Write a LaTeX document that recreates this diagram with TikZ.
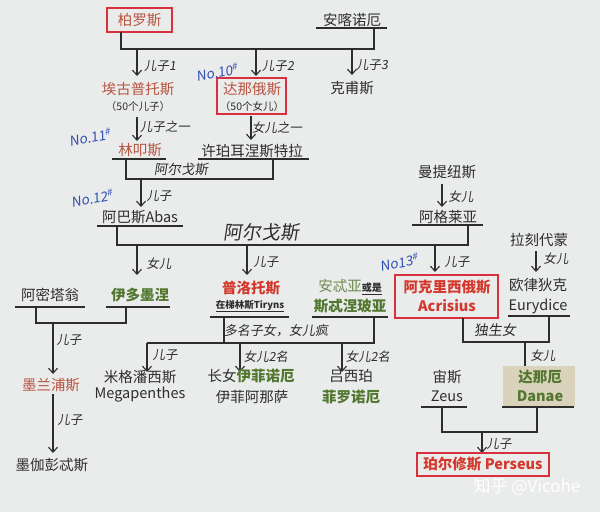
\documentclass[tikz,border=0pt]{standalone}
\usepackage{fontspec}
\setmainfont{Noto Sans CJK SC}
\newfontfamily\hand[FakeSlant=0.15]{Noto Sans CJK SC}
\usetikzlibrary{arrows.meta}
\definecolor{paper}{RGB}{234,235,235}
\definecolor{ink}{RGB}{45,45,45}
\definecolor{brn}{RGB}{184,84,64}
\definecolor{redb}{RGB}{212,56,44}
\definecolor{boxred}{RGB}{216,48,62}
\definecolor{grn}{RGB}{82,120,48}
\definecolor{grnl}{RGB}{110,140,80}
\definecolor{blu}{RGB}{50,80,180}
\definecolor{beige}{RGB}{218,210,186}
\tikzset{
  nm/.style={font=\fontsize{14.5}{16}\selectfont, text=ink, inner sep=0pt},
  sm/.style={font=\fontsize{10.5}{12}\selectfont, text=ink, inner sep=0pt},
  hl/.style={font=\hand\fontsize{12.5}{13}\selectfont, text=ink, inner sep=0pt},
  nolab/.style={font=\hand\fontsize{13.5}{14}\selectfont, text=blu, inner sep=0pt, rotate=10},
  redbox/.style={draw=boxred, line width=2pt, inner sep=0pt},
  ln/.style={draw=ink, line width=1.1pt},
  arr/.style={ln, -{Straight Barb[length=5pt,width=9pt,line width=1.1pt]}},
}
\begin{document}
\begin{tikzpicture}[x=1pt,y=-1pt]
\fill[paper] (0,0) rectangle (600,512);
\useasboundingbox (0,0) rectangle (600,512);

% ---------- generation 1
\node[redbox, minimum width=65pt, minimum height=24pt] (bolubox) at (139.5,20) {};
\node[nm, text=brn] (bolu) at (139.5,20) {柏罗斯};
\node[nm] (anke) at (352,20) {安喀诺厄};
\coordinate (ankeL) at (316,28); \coordinate (ankeR) at (387,28);
\draw[ln] (ankeL) -- (ankeR);
\coordinate (b1) at (121,32); \coordinate (b2) at (121,49);
\coordinate (b3) at (374,49); \coordinate (b4) at (374,28);
\draw[ln] (b1) -- (b2) -- (b3) -- (b4);

% arrows to generation 2
\coordinate (s1) at (137,49); \coordinate (t1) at (137,76);
\coordinate (s2) at (256,49); \coordinate (t2) at (256,76);
\coordinate (s3) at (352,49); \coordinate (t3) at (352,75);
\draw[arr] (s1) -- (t1); \draw[arr] (s2) -- (t2); \draw[arr] (s3) -- (t3);
\node[hl] (l1) at (160,66) {儿子1};
\node[hl] (l2) at (278,66) {儿子2};
\node[hl] (l3) at (372,65) {儿子3};

% ---------- generation 2
\node[nm, text=brn] (aigu) at (138,89) {埃古普托斯};
\node[sm] (aigu2) at (138,107) {（50个儿子）};
\node[redbox, minimum width=69pt, minimum height=36pt] (danabox) at (251.5,96) {};
\node[nm, text=brn] (dana) at (252,89) {达那俄斯};
\node[sm] (dana2) at (252,107) {（50个女儿）};
\node[nm] (kefu) at (352,88) {克甫斯};
\node[nolab] (no10) at (217,72) {No.10\textsuperscript{\#}};

\coordinate (s4) at (137,117); \coordinate (t4) at (137,141);
\coordinate (s5) at (251,116); \coordinate (t5) at (251,140);
\draw[arr] (s4) -- (t4); \draw[arr] (s5) -- (t5);
\node[hl] (l4) at (165,127) {儿子之一};
\node[hl] (l5) at (277,128) {女儿之一};

% ---------- generation 3
\node[nm, text=brn] (linkou) at (140,150) {林叩斯};
\node[nm] (xupo) at (252,151) {许珀耳涅斯特拉};
\node[nolab] (no11) at (90,137) {No.11\textsuperscript{\#}};
\coordinate (u1) at (112,159); \coordinate (u2) at (166,159);
\coordinate (u3) at (198,159); \coordinate (u4) at (309,159);
\draw[ln] (u1) -- (u2); \draw[ln] (u3) -- (u4);
\coordinate (c1) at (126,159); \coordinate (c2) at (126,179);
\coordinate (c3) at (273,179); \coordinate (c4) at (273,159);
\draw[ln] (c1) -- (c2) -- (c3) -- (c4);
\node[hl, font=\hand\fontsize{13.5}{14}\selectfont] (argos1) at (181,169) {阿尔戈斯};
\coordinate (s6) at (141,179); \coordinate (t6) at (141,207);
\draw[arr] (s6) -- (t6);
\node[hl] (l6) at (159,196) {儿子};

% ---------- generation 4
\node[nm] (abas) at (140,217) {阿巴斯Abas};
\node[nolab] (no12) at (92,198) {No.12\textsuperscript{\#}};
\coordinate (u5) at (97,226); \coordinate (u6) at (183,226);
\draw[ln] (u5) -- (u6);
\node[nm] (manti) at (447,172) {曼提纽斯};
\coordinate (s7) at (442,184); \coordinate (t7) at (442,207);
\draw[arr] (s7) -- (t7);
\node[hl] (l7) at (461,197) {女儿};
\node[nm] (agle) at (448,217) {阿格莱亚};
\coordinate (u7) at (412,225); \coordinate (u8) at (483,225);
\draw[ln] (u7) -- (u8);
\coordinate (c5) at (117,226); \coordinate (c6) at (117,245);
\coordinate (c7) at (468,245); \coordinate (c8) at (468,225);
\draw[ln] (c5) -- (c6) -- (c7) -- (c8);
\node[hl, font=\hand\fontsize{19}{20}\selectfont] (argos2) at (261,232) {阿尔戈斯};

\coordinate (s8) at (137,245); \coordinate (t8) at (137,275);
\coordinate (s9) at (247,245); \coordinate (t9) at (247,275);
\coordinate (s10) at (435,245); \coordinate (t10) at (435,272);
\draw[arr] (s8) -- (t8); \draw[arr] (s9) -- (t9); \draw[arr] (s10) -- (t10);
\node[hl] (l8) at (159,264) {女儿};
\node[hl] (l9) at (266,262) {儿子};
\node[hl] (l10) at (457,262) {儿子};
\node[nolab] (no13) at (399,262) {No13\textsuperscript{\#}};

% ---------- generation 5
\node[nm] (amita) at (50,295) {阿密塔翁};
\coordinate (u9) at (15,307); \coordinate (u10) at (85,307);
\draw[ln] (u9) -- (u10);
\node[nm, text=grn, font=\fontsize{14.5}{16}\selectfont\bfseries] (iduo) at (140,295) {伊多墨涅};
\coordinate (u11) at (106,307); \coordinate (u12) at (170,307);
\draw[ln] (u11) -- (u12);
\coordinate (c9) at (36,307); \coordinate (c10) at (36,323);
\coordinate (c11) at (126,323); \coordinate (c12) at (126,307);
\draw[ln] (c9) -- (c10) -- (c11) -- (c12);
\coordinate (s11) at (53,323); \coordinate (t11) at (53,374);
\draw[arr] (s11) -- (t11);
\node[hl] (l11) at (69,340) {儿子};
\node[nm, text=brn] (melan) at (51,385) {墨兰浦斯};
\coordinate (s12) at (53,394); \coordinate (t12) at (53,453);
\draw[arr] (s12) -- (t12);
\node[hl] (l12) at (70,420) {儿子};
\node[nm] (megpen) at (52,465) {墨伽彭忒斯};

\node[nm, text=redb, font=\fontsize{14.5}{16}\selectfont\bfseries] (proitos) at (251,288) {普洛托斯};
\node[sm, font=\fontsize{9.5}{11}\selectfont\bfseries] (tiryns) at (250,306) {\underline{在梯林斯Tiryns}};
\coordinate (u13) at (210,317); \coordinate (u14) at (289,317);
\draw[ln] (u13) -- (u14);
\node[nm] (anti) at (350,287) {\textcolor{grnl}{安忒亚}{\fontsize{10}{12}\selectfont\bfseries\underline{或是}}};
\node[nm, text=grn, font=\fontsize{14.5}{16}\selectfont\bfseries] (steno) at (350,306) {斯忒涅玻亚};
\coordinate (u15) at (312,317); \coordinate (u16) at (388,317);
\draw[ln] (u15) -- (u16);
\coordinate (c13) at (224,317); \coordinate (c14) at (224,343);
\draw[ln] (c13) -- (c14);
\coordinate (c15) at (147,343); \coordinate (c16) at (374,343); \coordinate (c17) at (374,317);
\draw[ln] (c15) -- (c16) -- (c17);
\node[hl, font=\hand\fontsize{13}{14}\selectfont] (many) at (276,331) {多名子女，女儿疯};
\coordinate (s13) at (147,343); \coordinate (t13) at (147,372);
\coordinate (s14) at (240,343); \coordinate (t14) at (240,372);
\coordinate (s15) at (342,343); \coordinate (t15) at (342,372);
\draw[arr] (s13) -- (t13); \draw[arr] (s14) -- (t14); \draw[arr] (s15) -- (t15);
\node[hl] (l13) at (165,355) {儿子};
\node[hl] (l14) at (266,357) {女儿2名};
\node[hl] (l15) at (368,357) {女儿2名};

\node[nm] (migpan) at (140,377) {米格潘西斯};
\node[nm, font=\fontsize{14.5}{16}\selectfont] (megaen) at (140,395) {Megapenthes};
\node[nm] (iphi) at (251,376) {长女\textcolor{grn}{\bfseries 伊菲诺厄}};
\node[nm] (iphia) at (252,397) {伊菲阿那萨};
\node[nm] (lysi) at (351,376) {吕西珀};
\node[nm, text=grn, font=\fontsize{14.5}{16}\selectfont\bfseries] (philo) at (351,397) {菲罗诺厄};

% ---------- Acrisius line
\node[redbox, minimum width=103pt, minimum height=43pt] (acribox) at (446.5,296.5) {};
\node[nm, text=redb, font=\fontsize{14.5}{16}\selectfont\bfseries] (acri) at (447,287) {阿克里西俄斯};
\node[nm, text=redb, font=\fontsize{14.5}{16}\selectfont\bfseries] (acri2) at (447,306) {Acrisius};
\node[nm] (lake) at (539,240) {拉刻代蒙};
\coordinate (s16) at (536,251); \coordinate (t16) at (536,272);
\draw[arr] (s16) -- (t16);
\node[hl] (l16) at (556,259) {女儿};
\node[nm] (eury) at (538,285) {欧律狄克};
\node[nm, font=\fontsize{14.5}{16}\selectfont] (eury2) at (538,306) {Eurydice};
\coordinate (u17) at (508,316); \coordinate (u18) at (570,316);
\draw[ln] (u17) -- (u18);
\coordinate (c18) at (463,318); \coordinate (c19) at (463,342);
\coordinate (c20) at (549,342); \coordinate (c21) at (549,316);
\draw[ln] (c18) -- (c19) -- (c20) -- (c21);
\node[hl, font=\hand\fontsize{14}{15}\selectfont] (only) at (495,330) {独生女};
\coordinate (s17) at (525,342); \coordinate (t17) at (525,372);
\draw[arr] (s17) -- (t17);
\node[hl] (l17) at (543,356) {女儿};

\node[nm] (zeus) at (447,377) {宙斯};
\node[nm, font=\fontsize{14.5}{16}\selectfont] (zeus2) at (447,396) {Zeus};
\coordinate (u19) at (421,407); \coordinate (u20) at (467,407);
\draw[ln] (u19) -- (u20);
\node[fill=beige, inner sep=0pt, minimum width=72pt, minimum height=41pt] (danaebox) at (539,386) {};
\node[nm, text=grn, font=\fontsize{14.5}{16}\selectfont\bfseries] (danae) at (540,377) {达那厄};
\node[nm, text=grn, font=\fontsize{14.5}{16}\selectfont\bfseries] (danae2) at (540,396) {Danae};
\coordinate (u21) at (502,407); \coordinate (u22) at (574,407);
\draw[ln] (u21) -- (u22);
\coordinate (c22) at (442,407); \coordinate (c23) at (442,432);
\coordinate (c24) at (537,432); \coordinate (c25) at (537,407);
\draw[ln] (c22) -- (c23) -- (c24) -- (c25);
\coordinate (s18) at (482,432); \coordinate (t18) at (482,453);
\draw[arr] (s18) -- (t18);
\node[hl] (l18) at (499,444) {儿子};
\node[redbox, minimum width=132pt, minimum height=23pt] (perbox) at (483,464.5) {};
\node[nm, text=redb, font=\fontsize{14.5}{16}\selectfont\bfseries] (perseus) at (483,464.5) {珀尔修斯 Perseus};

\node[inner sep=0pt, text=white, font=\fontsize{17}{18}\selectfont] (wm) at (527,487) {知乎 @Vicohe};
\end{tikzpicture}
\end{document}
